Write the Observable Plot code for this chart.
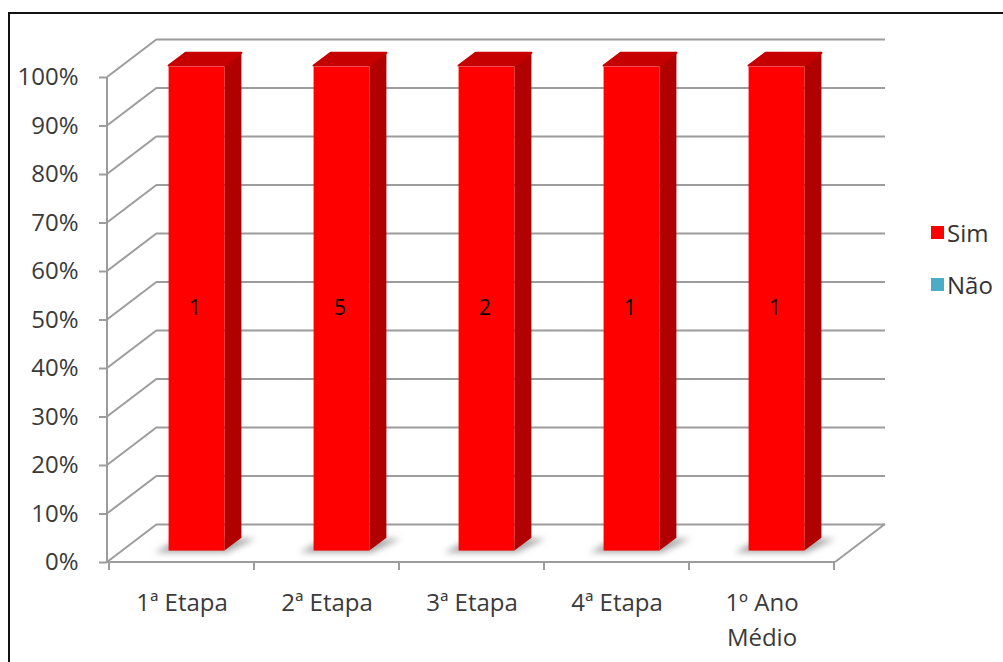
<!DOCTYPE html>
<html>
<head>
<meta charset="utf-8">
<script src="https://cdn.jsdelivr.net/npm/d3@7"></script>
<script src="https://cdn.jsdelivr.net/npm/@observablehq/plot@0.6"></script>
<style>
  html, body { margin: 0; padding: 0; background: #fff; overflow: hidden; }
  #wrap { position: relative; width: 1003px; height: 662px; overflow: hidden; background: #fff; }
  #frame { position: absolute; left: 8px; top: 12px; width: 1100px; height: 800px;
           border: 2px solid #111; box-sizing: border-box; pointer-events: none; }
  #chart { position: absolute; left: 0; top: 0; }
  #legend { position: absolute; left: 931px; top: 216px; }
  #legend .lg-swatches { font: 24px "Open Sans", sans-serif !important; color: #333 !important; margin: 0 !important; }
  #legend .lg-swatch { padding-bottom: 19px !important; }
  #legend .lg-swatch > svg { margin-right: 3px !important; }
</style>
</head>
<body>
<div id="wrap">
  <div id="chart"></div>
  <div id="legend"></div>
  <div id="frame"></div>
</div>
<script>
// Categories and the answer counts per series
const categories = ["1ª Etapa", "2ª Etapa", "3ª Etapa", "4ª Etapa", "1º Ano\nMédio"];
const seriesNames = ["Sim", "Não"];
const simCounts = [1, 5, 2, 1, 1];
const naoCounts = [0, 0, 0, 0, 0];
const yTicks = [0, 10, 20, 30, 40, 50, 60, 70, 80, 90, 100];
const seriesColors = ["#ff0000", "#4bacc6"];

// Side / top shades for the 3D columns
const shades = {
  "Sim": {front: "#ff0000", side: "#b00000", top: "#c60000"},
  "Não": {front: "#4bacc6", side: "#2f7f94", top: "#3a95ad"}
};

// Oblique depth of the chart box, in pixels
const DX = 50, DY = -38;
const Z0 = 0.3, Z1 = 0.64;      // column depth span within the box
const BAR = 0.385;               // column width as share of the band

// 100% stacked rows
const rows = [];
categories.forEach((cat, i) => {
  const counts = [simCounts[i], naoCounts[i]];
  const total = counts[0] + counts[1];
  let acc = 0;
  seriesNames.forEach((s, k) => {
    const pct = total ? counts[k] / total * 100 : 0;
    rows.push({cat, serie: s, count: counts[k], y1: acc, y2: acc + pct});
    acc += pct;
  });
});

const gridColor = "#9c9c9c";

// Walls, floor, axis lines and the 3D columns, drawn with the plot's scales
function box3d(index, scales, values, dims) {
  const {x, y} = scales;
  const left = dims.marginLeft, right = dims.width - dims.marginRight;
  const bw = x.bandwidth ? x.bandwidth() : (right - left) / categories.length;
  const g = d3.create("svg:g");
  const defs = g.append("defs");
  defs.append("filter").attr("id", "shadowBlur").attr("x", "-50%").attr("y", "-50%")
    .attr("width", "200%").attr("height", "200%")
    .append("feGaussianBlur").attr("stdDeviation", 3);

  const line = (x1, y1, x2, y2) => g.append("line")
    .attr("x1", x1).attr("y1", y1).attr("x2", x2).attr("y2", y2)
    .attr("stroke", gridColor).attr("stroke-width", 2);

  // left wall diagonals
  for (const t of yTicks) line(left, y(t), left + DX, y(t) + DY);
  // floor: right edge
  line(right, y(0), right + DX, y(0) + DY);
  // front axes
  line(left, y(0), left, y(100));
  line(left, y(0), right, y(0));
  // category boundary ticks
  for (let i = 0; i <= categories.length; i++) {
    const xb = i < categories.length ? x(categories[i]) : x(categories[i - 1]) + bw;
    line(xb, y(0), xb, y(0) + 8);
  }

  const ox0 = Z0 * DX, oy0 = Z0 * DY, ox1 = Z1 * DX, oy1 = Z1 * DY;
  const pts = a => a.map(p => p.join(",")).join(" ");
  const bars = rows.filter(r => r.y2 > r.y1);

  // soft floor shadows
  for (const r of bars) {
    const c = x(r.cat) + bw / 2;
    const x0 = c - bw * BAR / 2, x1 = c + bw * BAR / 2, yb = y(0);
    g.append("polygon")
      .attr("points", pts([
        [x0 + ox0 - 14, yb + oy0 + 2], [x1 + ox0 + 2, yb + oy0 + 2],
        [x1 + ox1 + 14, yb + oy1 + 1], [x0 + ox1 - 6, yb + oy1 + 1]]))
      .attr("fill", "#8a8a8a").attr("opacity", 0.75).attr("filter", "url(#shadowBlur)");
  }

  // columns
  for (const r of bars) {
    const c = x(r.cat) + bw / 2;
    const x0 = c - bw * BAR / 2, x1 = c + bw * BAR / 2;
    const yt = y(r.y2), yb = y(r.y1);
    const col = shades[r.serie];
    g.append("polygon").attr("fill", col.side)
      .attr("points", pts([[x1 + ox0, yt + oy0], [x1 + ox1, yt + oy1], [x1 + ox1, yb + oy1], [x1 + ox0, yb + oy0]]));
    g.append("polygon").attr("fill", col.top).attr("stroke", col.top).attr("stroke-linejoin", "round").attr("stroke-width", 2)
      .attr("points", pts([[x0 + ox0, yt + oy0], [x1 + ox0, yt + oy0], [x1 + ox1, yt + oy1], [x0 + ox1, yt + oy1]]));
    g.append("rect").attr("fill", col.front)
      .attr("x", x0 + ox0).attr("y", yt + oy0 + 1).attr("width", x1 - x0).attr("height", yb - yt - 1);
  }
  return g.node();
}

const chart = Plot.plot({
  width: 1003,
  height: 662,
  marginLeft: 107,
  marginRight: 168,
  marginTop: 77,
  marginBottom: 100,
  style: {fontFamily: "'Open Sans', sans-serif", background: "transparent", overflow: "visible"},
  x: {type: "band", domain: categories, paddingInner: 0, paddingOuter: 0, axis: null},
  y: {domain: [0, 100], axis: null},
  marks: [
    // back wall gridlines
    Plot.ruleY(yTicks, {dx: DX, dy: DY, stroke: gridColor, strokeWidth: 2}),
    box3d,
    Plot.axisY(yTicks, {
      tickFormat: d => d + "%", tickSize: 8, tickPadding: 21,
      stroke: gridColor, strokeWidth: 2, fill: "#3a3a3a", fontSize: 24
    }),
    Plot.text(categories, {
      x: d => d, text: d => d, frameAnchor: "bottom", lineAnchor: "top",
      dy: 24, lineHeight: 1.45, fontSize: 24, fill: "#3a3a3a"
    }),
    // count labels in the middle of each column face
    Plot.text(rows.filter(r => r.count > 0), {
      x: "cat", y: r => (r.y1 + r.y2) / 2, text: r => String(r.count),
      dx: Z0 * DX - 2, dy: Z0 * DY, fontSize: 21, fill: "#000"
    })
  ]
});
document.getElementById("chart").appendChild(chart);

const legend = Plot.legend({
  color: {type: "ordinal", domain: seriesNames, range: seriesColors},
  legend: "swatches", columns: 1, swatchSize: 13, className: "lg"
});
document.getElementById("legend").appendChild(legend);
</script>
</body>
</html>
